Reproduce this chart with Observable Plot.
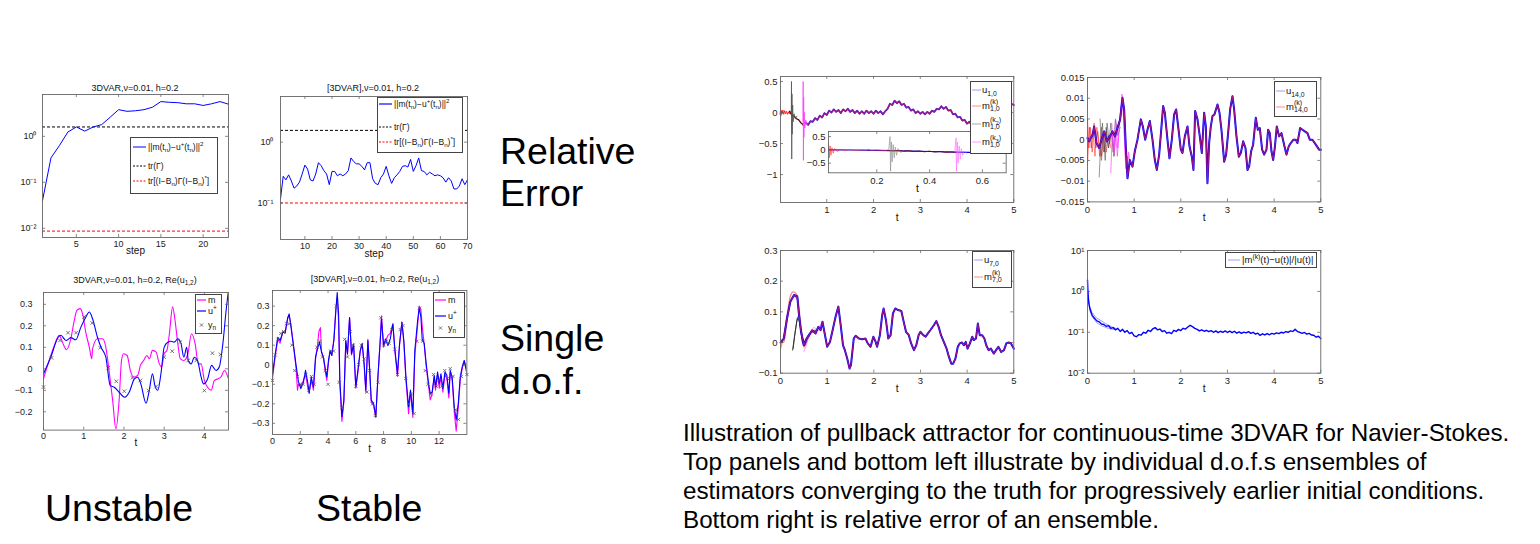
<!DOCTYPE html>
<html><head><meta charset="utf-8">
<script src="https://cdn.jsdelivr.net/npm/d3@7"></script>
<script src="https://cdn.jsdelivr.net/npm/@observablehq/plot@0.6"></script>
<style>
body{margin:0;background:#fff;}
#root{position:relative;width:1540px;height:544px;overflow:hidden;font-family:"Liberation Sans",Arial,Helvetica,sans-serif;background:#fff;color:#000}
.big{position:absolute;font-size:37.5px;line-height:37.5px;white-space:nowrap}
.cap{position:absolute;font-size:24.2px;line-height:29px;white-space:nowrap}
.ttl{position:absolute;font-size:9px;line-height:9px;white-space:nowrap;transform:translate(-50%,-50%);color:#111}
.leg{position:absolute;border:1px solid #444;background:#fff;box-sizing:border-box}
.row{position:absolute;white-space:nowrap;line-height:1;color:#111;transform:translateY(-50%)}
sub,sup{font-size:0.72em;line-height:0}
.ss{display:inline-block;vertical-align:middle;font-size:0.75em;line-height:0.95;text-align:left}
.ss>span{display:block}
</style></head><body><div id="root"></div>
<script>
// ---------------- data ----------------
// Panel 1: unstable 3DVAR relative error
const p1Step = [1,2,3,4,5,6,7,8,9,10,11,12,13,14,15,16,17,18,19,20,21,22,23];
const p1Err = [0.04,0.34,0.63,1.24,1.6,1.3,1.6,1.8,2.6,3.8,3.5,3.6,3.8,4.3,5.7,5.5,5.4,5.1,5.1,4.7,5.1,5.7,5.0];
const p1TrGamma = 1.6, p1TrB = 0.0087;
// Panel 2: stable 3DVAR relative error
const p2Err = [0.117,0.275,0.24,0.29,0.23,0.175,0.19,0.22,0.30,0.42,0.36,0.24,0.23,0.30,0.46,0.41,0.34,0.30,0.20,0.33,
  0.33,0.28,0.30,0.28,0.30,0.34,0.55,0.48,0.44,0.44,0.40,0.35,0.46,0.46,0.25,0.21,0.20,0.26,0.30,0.40,
  0.28,0.21,0.26,0.29,0.33,0.40,0.41,0.39,0.52,0.33,0.41,0.55,0.34,0.33,0.29,0.32,0.30,0.28,0.29,0.28,
  0.26,0.22,0.26,0.23,0.17,0.17,0.19,0.25,0.20,0.24];
const p2TrGamma = 1.56, p2TrB = 0.1;
// Panel 3: unstable, single dof
const p3U = [[0,-0.023],[0.18,0.054],[0.37,0.148],[0.43,0.156],[0.56,0.132],[0.68,0.145],[0.8,0.135],[0.93,0.194],[1.05,0.24],[1.14,0.264],[1.22,0.233],[1.34,0.148],[1.43,0.1],[1.55,0.054],[1.66,-0.078],[1.76,-0.086],[1.88,-0.109],[2.02,-0.132],[2.13,-0.109],[2.26,-0.047],[2.34,-0.039],[2.42,-0.07],[2.55,-0.16],[2.63,-0.1],[2.71,-0.023],[2.77,-0.078],[2.84,-0.1],[2.92,-0.023],[3.0,0.1],[3.09,0.124],[3.17,0.128],[3.25,0.124],[3.34,0.14],[3.42,0.117],[3.49,0.054],[3.56,0.1],[3.6,0.039],[3.67,0.023],[3.75,0.054],[3.83,0.039],[3.92,-0.039],[3.98,-0.07],[4.08,-0.047],[4.18,0.016],[4.29,-0.008],[4.37,0.008],[4.46,0.117],[4.54,0.27],[4.6,0.365]];
const p3M = [[0,-0.047],[0.14,0.039],[0.27,0.109],[0.39,0.156],[0.47,0.124],[0.57,0.089],[0.68,0.14],[0.75,0.21],[0.83,0.272],[0.91,0.28],[0.97,0.257],[1.05,0.171],[1.14,0.1],[1.2,0.047],[1.22,0.093],[1.34,0.14],[1.47,0.14],[1.55,0.1],[1.63,-0.008],[1.72,-0.148],[1.8,-0.28],[1.88,-0.148],[1.94,0.039],[1.99,0.07],[2.08,0.062],[2.16,-0.008],[2.24,-0.039],[2.34,-0.031],[2.41,0.016],[2.49,0.039],[2.57,0.062],[2.63,0.047],[2.71,0.086],[2.8,0.078],[2.88,0.023],[2.94,0.008],[3.0,0.07],[3.07,0.086],[3.13,0.163],[3.21,0.288],[3.27,0.226],[3.34,0.117],[3.4,0.047],[3.49,0.039],[3.59,0.07],[3.68,0.163],[3.77,0.117],[3.85,0.023],[3.92,0.023],[4.0,-0.054],[4.08,-0.086],[4.17,-0.1],[4.25,-0.054],[4.33,-0.047],[4.41,-0.039],[4.5,-0.008],[4.6,-0.047]];
const p3Y = [[0,-0.085],[0.2,0.051],[0.41,0.132],[0.61,0.168],[0.81,0.168],[1.01,0.241],[1.21,0.213],[1.41,0.098],[1.61,0.005],[1.81,-0.058],[2.01,-0.104],[2.21,-0.042],[2.41,-0.054],[2.61,-0.101],[2.8,-0.082],[3.0,0.054],[3.2,0.082],[3.4,0.124],[3.6,0.039],[3.8,0.039],[4.0,-0.101],[4.2,0.073],[4.4,0.067]];
// Panel 4: stable, single dof
const p4U = [[0,-0.046],[0.19,0.051],[0.38,0.14],[0.55,0.124],[0.74,0.166],[0.91,0.166],[1.1,0.242],[1.2,0.26],[1.32,0.2],[1.51,0.098],[1.7,-0.003],[1.87,-0.088],[2.04,-0.122],[2.23,-0.088],[2.38,-0.029],[2.55,-0.097],[2.64,-0.147],[2.79,-0.063],[2.95,-0.114],[3.1,0.039],[3.24,0.081],[3.39,0.115],[3.53,0.064],[3.67,0.039],[3.82,-0.029],[3.91,-0.063],[4.03,0.022],[4.15,0.073],[4.27,0.047],[4.42,0.124],[4.56,0.276],[4.66,0.37],[4.76,0.26],[4.85,-0.08],[5.0,-0.266],[5.14,-0.181],[5.28,0.124],[5.4,0.056],[5.55,0.242],[5.69,0.056],[5.84,0.107],[6.0,-0.114],[6.15,-0.029],[6.32,0.073],[6.46,0.107],[6.6,0.005],[6.72,-0.13],[6.87,0.124],[6.99,-0.012],[7.11,-0.181],[7.28,-0.198],[7.44,-0.266],[7.59,-0.063],[7.76,0.124],[7.85,0.234],[8.0,0.098],[8.14,0.132],[8.31,0.098],[8.48,0.132],[8.67,0.208],[8.81,0.081],[9.0,-0.046],[9.15,0.107],[9.32,0.217],[9.46,0.124],[9.61,-0.063],[9.8,-0.215],[9.94,-0.13],[10.11,-0.249],[10.25,0.073],[10.45,0.225],[10.57,0.293],[10.69,0.242],[10.78,0.132],[10.93,0.107],[11.07,0.005],[11.24,-0.097],[11.36,-0.147],[11.5,-0.139],[11.65,-0.054],[11.74,-0.114],[11.89,-0.037],[12.01,-0.097],[12.13,-0.046],[12.27,-0.122],[12.42,-0.037],[12.56,-0.054],[12.7,-0.147],[12.8,-0.029],[12.94,-0.063],[13.09,-0.215],[13.23,-0.283],[13.38,-0.198],[13.52,-0.063],[13.66,-0.012],[13.81,0.022],[14.0,-0.046]];
const p4M = [[0,-0.07],[0.19,0.04],[0.38,0.13],[0.55,0.11],[0.74,0.17],[0.91,0.16],[1.1,0.24],[1.2,0.25],[1.32,0.21],[1.51,0.1],[1.7,-0.02],[1.8,-0.13],[1.87,-0.1],[2.04,-0.11],[2.23,-0.08],[2.38,-0.05],[2.55,-0.12],[2.64,-0.14],[2.79,-0.08],[2.95,-0.13],[3.1,0.03],[3.24,0.1],[3.34,0.17],[3.45,0.19],[3.53,0.07],[3.67,0.03],[3.82,-0.04],[3.91,-0.08],[4.03,0.01],[4.15,0.07],[4.27,0.05],[4.42,0.13],[4.56,0.28],[4.66,0.34],[4.76,0.22],[4.85,-0.1],[5.0,-0.29],[5.14,-0.19],[5.28,0.12],[5.4,0.05],[5.55,0.24],[5.69,0.05],[5.84,0.1],[6.0,-0.12],[6.15,-0.04],[6.32,0.07],[6.46,0.11],[6.6,0.0],[6.72,-0.14],[6.87,0.13],[6.99,-0.02],[7.11,-0.19],[7.28,-0.21],[7.44,-0.27],[7.59,-0.07],[7.76,0.13],[7.85,0.25],[8.0,0.09],[8.14,0.12],[8.31,0.15],[8.48,0.16],[8.67,0.21],[8.81,0.07],[9.0,-0.06],[9.15,0.1],[9.32,0.22],[9.46,0.11],[9.61,-0.08],[9.8,-0.25],[9.94,-0.14],[10.11,-0.27],[10.25,0.05],[10.45,0.2],[10.57,0.3],[10.69,0.28],[10.78,0.2],[10.93,0.1],[11.07,-0.01],[11.24,-0.11],[11.36,-0.18],[11.5,-0.15],[11.65,-0.06],[11.74,-0.13],[11.89,-0.05],[12.01,-0.12],[12.13,-0.06],[12.27,-0.14],[12.42,-0.05],[12.56,-0.07],[12.7,-0.17],[12.8,-0.04],[12.94,-0.08],[13.09,-0.24],[13.23,-0.34],[13.38,-0.22],[13.52,-0.08],[13.66,-0.02],[13.81,0.02],[14.0,-0.03]];
const p4Y = [-0.08,0.05,0.13,0.16,0.17,0.21,0.21,0.10,-0.03,-0.06,-0.10,-0.10,-0.05,-0.13,-0.06,-0.10,0.09,0.12,0.04,-0.03,
  -0.10,0.07,0.07,0.30,-0.09,-0.22,0.13,0.04,0.17,0.10,-0.11,0.00,0.10,0.03,-0.14,-0.03,-0.20,-0.26,-0.09,0.24,
  0.10,0.12,0.11,0.18,0.08,-0.05,0.18,0.20,-0.07,-0.20,-0.15,-0.25,0.12,0.29,0.12,-0.03,-0.10,-0.15,-0.05,-0.11,
  -0.08,-0.11,-0.03,-0.07,-0.02,-0.06,-0.23,-0.28,-0.06,0.00,-0.05];
const p4Dt = 0.2;
// Panel 5: u_{1,0}, sampled every 0.05
const p5Dt = 0.05;
const p5Main = [0.00,-0.02,0.03,-0.01,0.02,-0.04,-0.06,-0.10,-0.12,-0.17,-0.20,-0.16,-0.20,-0.14,-0.15,-0.09,-0.12,-0.05,-0.08,-0.01,
  -0.04,0.03,0.00,0.05,0.01,0.04,-0.01,0.05,0.02,0.06,0.01,0.04,-0.01,0.03,-0.02,0.02,-0.02,0.03,-0.01,0.02,
  -0.02,0.03,-0.01,0.02,-0.03,0.02,0.06,0.14,0.12,0.19,0.15,0.18,0.12,0.14,0.08,0.09,0.03,0.05,-0.01,0.02,
  -0.02,0.01,-0.03,0.01,-0.02,0.03,0.01,0.06,0.05,0.10,0.06,0.09,0.03,0.04,-0.03,-0.02,-0.08,-0.07,-0.13,-0.12,
  -0.18,-0.15,-0.20,-0.17,-0.19,-0.14,-0.16,-0.10,-0.12,-0.06,-0.07,-0.02,-0.03,0.02,0.01,0.06,0.05,0.10,0.09,0.14,0.12];
const p5Red = [[0,-0.03],[0.01,0.04],[0.02,-0.05],[0.03,0.03],[0.045,-0.02],[0.06,0.04],[0.08,-0.03],[0.1,0.03],[0.12,-0.02],[0.14,0.02],[0.16,-0.03],[0.18,0.01],[0.2,-0.02],[0.22,0.02],[0.25,-0.04]];
const p5K2 = [[0.24,-0.03],[0.245,0.5],[0.25,-0.75],[0.255,0.3],[0.26,-0.35],[0.27,0.12],[0.28,-0.15],[0.3,-0.02],[0.33,-0.1],[0.36,-0.06]];
const p5K3 = [[0.49,-0.15],[0.495,0.5],[0.5,-0.77],[0.505,0.25],[0.51,-0.4],[0.52,0.0],[0.53,-0.25],[0.55,-0.12],[0.58,-0.2]];
const p5InU = [[0.017,0.0],[0.1,-0.005],[0.2,-0.015],[0.3,-0.035],[0.4,-0.06],[0.5,-0.085],[0.6,-0.1],[0.69,-0.11]];
const p5InRed = [[0.017,0.25],[0.02,-0.3],[0.023,0.15],[0.026,-0.2],[0.03,0.08],[0.035,-0.12],[0.04,0.05],[0.05,-0.06],[0.06,0.02],[0.08,-0.02],[0.1,0.01],[0.12,-0.02],[0.14,0.0],[0.16,-0.01],[0.17,0.03],[0.175,-0.02],[0.2,-0.01],[0.22,-0.02],[0.24,-0.02]];
const p5InDark = [[0.24,-0.02],[0.26,-0.03],[0.28,-0.02],[0.3,-0.05],[0.32,-0.03],[0.34,-0.06],[0.36,-0.04],[0.38,-0.07],[0.4,-0.05],[0.42,-0.08],[0.44,-0.06],[0.46,-0.09],[0.48,-0.08],[0.5,-0.09]];
const p5InK2 = [[0.245,0.0],[0.25,0.5],[0.252,-0.8],[0.255,0.3],[0.258,-0.45],[0.262,0.2],[0.266,-0.3],[0.27,0.1],[0.275,-0.2],[0.28,0.05],[0.29,-0.1],[0.3,-0.03]];
const p5InK3 = [[0.495,-0.08],[0.5,0.45],[0.502,-0.8],[0.505,0.3],[0.508,-0.5],[0.512,0.15],[0.516,-0.35],[0.52,0.05],[0.525,-0.2],[0.53,-0.05],[0.54,-0.12]];
// Panel 6: u_{14,0}
const p6Main = [[0,0.0004],[0.036,-0.0004],[0.107,0.0012],[0.143,0.0032],[0.193,-0.0008],[0.25,-0.002],[0.3,0],[0.357,0.002],[0.414,-0.0004],[0.479,0.0008],[0.536,0.002],[0.586,0.0008],[0.643,0.0028],[0.7,0.0049],[0.75,0.0101],[0.786,0.0073],[0.821,-0.0016],[0.857,-0.0093],[0.907,-0.0049],[0.964,-0.0065],[1.014,-0.0028],[1.071,0],[1.143,0.0049],[1.186,0.0032],[1.236,0],[1.286,0.0024],[1.336,0.0045],[1.393,0],[1.443,-0.0049],[1.486,-0.0073],[1.536,-0.0036],[1.586,0.0032],[1.621,0.0081],[1.657,0.0065],[1.714,0],[1.757,-0.0045],[1.807,0],[1.857,0.0061],[1.9,0.0073],[1.943,0.0032],[2.0,-0.0024],[2.036,-0.0032],[2.086,0.0008],[2.143,0.0032],[2.186,-0.0016],[2.236,-0.0041],[2.271,-0.0073],[2.307,0.0069],[2.357,0.0049],[2.407,0.0008],[2.45,-0.0032],[2.5,0.0065],[2.536,0.0032],[2.571,-0.0105],[2.607,-0.0008],[2.643,0.0032],[2.679,0.0057],[2.721,0.0061],[2.786,0.0085],[2.829,0.0065],[2.871,0.0024],[2.929,-0.0053],[2.971,-0.0036],[3.014,0.0016],[3.057,0.0073],[3.107,0.0105],[3.143,0.0073],[3.193,0.0008],[3.243,-0.0041],[3.286,-0.0032],[3.336,-0.0004],[3.386,-0.002],[3.429,-0.0073],[3.464,-0.0065],[3.507,-0.0028],[3.55,-0.0012],[3.607,0.0053],[3.65,0.0024],[3.693,0.0028],[3.743,-0.0024],[3.786,-0.0036],[3.836,-0.0024],[3.871,0.0024],[3.907,0.0016],[3.943,-0.0028],[3.979,-0.0049],[4.014,-0.002],[4.057,0.0032],[4.107,0.0008],[4.157,0.0016],[4.214,-0.0012],[4.264,-0.0036],[4.314,-0.0016],[4.357,-0.0008],[4.414,0],[4.464,0],[4.5,-0.0008],[4.557,0.0028],[4.607,0.0024],[4.657,0.002],[4.714,0.0016],[4.764,0],[4.821,0],[4.893,-0.0012],[4.964,-0.0024],[5.0,-0.0024]];
const p6Red1 = [[0,0.005],[0.03,-0.002],[0.06,0.003],[0.1,-0.003],[0.14,0.004],[0.18,-0.002],[0.22,0.002],[0.26,-0.004],[0.3,0.003],[0.35,-0.003],[0.4,0.002],[0.45,-0.002],[0.5,0.001]];
const p6Red2 = [[0,-0.006],[0.04,0.003],[0.08,-0.002],[0.12,0.002],[0.16,-0.004],[0.2,0.003],[0.25,-0.001],[0.3,-0.005],[0.35,0.002],[0.4,-0.003],[0.45,0.001],[0.5,-0.002]];
const p6Grey1 = [[0.25,-0.009],[0.28,-0.002],[0.32,0.004],[0.36,-0.003],[0.4,0.003],[0.45,-0.002],[0.5,0.004],[0.55,-0.003],[0.6,0.005],[0.65,0.001],[0.7,0.003]];
const p6Grey2 = [[0.27,0.005],[0.3,-0.004],[0.34,0.002],[0.38,-0.005],[0.42,0.004],[0.47,-0.001],[0.52,0.002],[0.57,-0.004],[0.62,0.003],[0.67,0.004],[0.72,0.006]];
const p6Pink1 = [[0.5,-0.008],[0.53,0.002],[0.57,-0.003],[0.6,0.005],[0.65,-0.002],[0.7,0.006],[0.74,0.011],[0.78,0.004],[0.82,-0.007],[0.86,-0.004],[0.9,-0.005]];
const p6Pink2 = [[0.52,0.004],[0.56,-0.004],[0.6,0.002],[0.64,-0.004],[0.68,0.003],[0.72,0.008],[0.76,0.009],[0.8,-0.002],[0.84,-0.008],[0.88,-0.003],[0.92,-0.006]];
// Panel 7: u_{7,0}
const p7Main = [[0,0],[0.07,0.013],[0.14,0.079],[0.21,0.133],[0.29,0.155],[0.36,0.15],[0.39,0.1],[0.44,0.035],[0.5,-0.009],[0.56,0.013],[0.61,0.024],[0.68,0.04],[0.75,0.03],[0.81,0.051],[0.86,0.04],[0.9,0.068],[0.94,0.035],[1.0,-0.014],[1.06,0.002],[1.11,0.035],[1.18,0.084],[1.24,0.117],[1.29,0.057],[1.34,-0.009],[1.38,-0.025],[1.43,-0.052],[1.48,-0.085],[1.51,-0.074],[1.57,0.013],[1.61,0.022],[1.68,0.013],[1.75,0.011],[1.82,0.013],[1.87,-0.003],[1.93,-0.014],[1.99,0.019],[2.04,0.002],[2.07,-0.014],[2.13,0.024],[2.18,0.09],[2.21,0.111],[2.26,0.073],[2.31,0.013],[2.36,0.024],[2.41,0.095],[2.46,0.111],[2.52,0.106],[2.59,0.103],[2.64,0.068],[2.69,0.035],[2.75,0.024],[2.8,-0.003],[2.86,-0.025],[2.91,-0.009],[2.96,0.024],[3.0,0.035],[3.06,0.024],[3.11,0.019],[3.16,0.03],[3.21,0.04],[3.29,0.057],[3.34,0.07],[3.39,0.051],[3.44,0.024],[3.5,0.002],[3.56,-0.02],[3.61,-0.047],[3.66,-0.069],[3.7,-0.069],[3.75,-0.052],[3.8,-0.014],[3.84,-0.003],[3.89,0],[3.93,-0.009],[3.97,0.002],[4.01,-0.02],[4.06,-0.003],[4.11,0.019],[4.14,0.008],[4.19,0.013],[4.23,0.062],[4.27,0.024],[4.32,0.024],[4.37,0.013],[4.41,-0.009],[4.46,-0.025],[4.51,-0.02],[4.57,-0.036],[4.62,-0.025],[4.67,-0.014],[4.73,-0.031],[4.79,-0.025],[4.84,-0.003],[4.89,0],[4.94,-0.003],[5.0,-0.02]];
const p7Red1 = [[0,-0.02],[0.07,0.02],[0.14,0.09],[0.21,0.15],[0.27,0.165],[0.33,0.16],[0.38,0.135],[0.42,0.08],[0.47,0.02],[0.52,0.0],[0.58,0.02]];
const p7Red2 = [[0,0.01],[0.07,0.0],[0.14,0.07],[0.21,0.13],[0.29,0.15],[0.36,0.14],[0.42,0.06],[0.5,-0.015],[0.56,0.005]];
const p7Black1 = [[0.26,-0.025],[0.3,0.02],[0.35,0.07],[0.39,0.09],[0.43,0.05],[0.47,0.0],[0.52,-0.01],[0.58,0.01],[0.65,0.03],[0.72,0.04],[0.8,0.04]];
const p7Black2 = [[0.27,-0.02],[0.31,0.03],[0.36,0.08],[0.4,0.07],[0.45,0.03],[0.5,0.0],[0.56,0.015],[0.62,0.03],[0.7,0.035]];
const p7Pink1 = [[0.5,-0.03],[0.55,-0.01],[0.6,0.015],[0.66,0.04],[0.72,0.05],[0.78,0.04],[0.84,0.05],[0.9,0.06]];
const p7Pink2 = [[0.52,-0.01],[0.58,0.01],[0.64,0.03],[0.7,0.035],[0.76,0.025],[0.82,0.045],[0.88,0.065]];
// Panel 8: relative ensemble error
const p8Main = [[0,1.9],[0.01,0.9],[0.025,0.55],[0.05,0.38],[0.1,0.26],[0.15,0.22],[0.2,0.19],[0.25,0.18],[0.3,0.16],[0.35,0.155],[0.4,0.14],[0.45,0.145],[0.5,0.125],[0.55,0.13],[0.6,0.115],[0.65,0.125],[0.7,0.105],[0.75,0.118],[0.8,0.1],[0.85,0.11],[0.9,0.093],[0.95,0.1],[1.0,0.082],[1.05,0.078],[1.1,0.088],[1.15,0.085],[1.2,0.1],[1.25,0.095],[1.3,0.112],[1.35,0.105],[1.4,0.122],[1.45,0.13],[1.5,0.115],[1.55,0.12],[1.6,0.104],[1.65,0.11],[1.7,0.095],[1.75,0.1],[1.8,0.093],[1.85,0.112],[1.9,0.105],[1.95,0.118],[2.0,0.11],[2.05,0.125],[2.1,0.12],[2.15,0.135],[2.2,0.148],[2.25,0.138],[2.3,0.125],[2.35,0.118],[2.4,0.108],[2.45,0.115],[2.5,0.106],[2.55,0.112],[2.6,0.104],[2.65,0.11],[2.7,0.1],[2.75,0.108],[2.8,0.098],[2.85,0.106],[2.9,0.1],[2.95,0.108],[3.0,0.099],[3.05,0.107],[3.1,0.098],[3.15,0.106],[3.2,0.095],[3.25,0.102],[3.3,0.094],[3.35,0.101],[3.4,0.097],[3.45,0.104],[3.5,0.094],[3.55,0.1],[3.6,0.09],[3.65,0.095],[3.7,0.084],[3.75,0.092],[3.8,0.086],[3.85,0.093],[3.9,0.087],[3.95,0.094],[4.0,0.09],[4.05,0.097],[4.1,0.093],[4.15,0.1],[4.2,0.096],[4.25,0.104],[4.3,0.1],[4.35,0.108],[4.4,0.105],[4.45,0.118],[4.5,0.104],[4.55,0.1],[4.6,0.094],[4.65,0.099],[4.7,0.09],[4.75,0.094],[4.8,0.086],[4.85,0.085],[4.9,0.076],[4.95,0.08],[5.0,0.07]];
const p8EnsA = [[0,1.2],[0.02,0.6],[0.05,0.42],[0.1,0.3],[0.2,0.22],[0.3,0.19],[0.4,0.16],[0.5,0.14],[0.6,0.125]];
const p8EnsB = [[0.01,1.0],[0.05,0.34],[0.1,0.24],[0.2,0.17],[0.3,0.145],[0.4,0.13],[0.5,0.12],[0.6,0.115]];

// tick labels
const logLabels = {"-2":"10\u207B\u00B2","-1":"10\u207B\u00B9","0":"10\u2070","1":"10\u00B9"};

// ---------------- drawing ----------------
const root = document.getElementById("root");
const FONT = '"Liberation Sans", Arial, Helvetica, sans-serif';
const fmtLin = d => d === 0 ? "0" : (d < 0 ? "\u2212" : "") + Math.abs(d);
const fmtLog = d => logLabels[String(Math.round(Math.log10(d)))];
const X = d => d[0], Y = d => d[1];

function panel(o) {
  const ml = o.ml ?? 50, mr = o.mr ?? 10, mt = o.mt ?? 6, mb = o.mb ?? 30;
  const iw = o.fx1 - o.fx0, ih = o.fy1 - o.fy0, fs = o.fs ?? 9, tk = o.tk ?? 3;
  const tcol = "#555";
  const marks = [];
  if (o.bg) marks.push(Plot.frame({fill: "white", stroke: "none"}));
  marks.push(...o.marks);
  marks.push(Plot.tickX(o.xticks, {x: d => d, insetTop: ih - tk, stroke: tcol, strokeWidth: 0.7}));
  marks.push(Plot.tickX(o.xticks, {x: d => d, insetBottom: ih - tk, stroke: tcol, strokeWidth: 0.7}));
  marks.push(Plot.tickY(o.yticks, {y: d => d, insetRight: iw - tk, stroke: tcol, strokeWidth: 0.7}));
  marks.push(Plot.tickY(o.yticks, {y: d => d, insetLeft: iw - tk, stroke: tcol, strokeWidth: 0.7}));
  marks.push(Plot.frame({stroke: "#666", strokeWidth: 0.9}));
  if (o.xlabel) marks.push(Plot.text([o.xlabel], {frameAnchor: "bottom", dy: o.xlabelDy, text: d => d, fontSize: fs + 1, fill: "#111"}));
  const svg = Plot.plot({
    width: iw + ml + mr, height: ih + mt + mb,
    marginLeft: ml, marginRight: mr, marginTop: mt, marginBottom: mb,
    x: {domain: o.xdomain, ticks: o.xticks, tickFormat: o.xfmt ?? fmtLin, tickSize: 0, tickPadding: o.xpad ?? 3, label: null},
    y: {type: o.ytype ?? "linear", domain: o.ydomain, ticks: o.yticks, tickFormat: o.yfmt ?? fmtLin, tickSize: 0, tickPadding: o.ypad ?? 3, label: null},
    style: {fontFamily: FONT, fontSize: fs + "px", color: "#222", background: "transparent", overflow: "visible"},
    marks
  });
  svg.style.position = "absolute";
  svg.style.left = (o.fx0 - ml) + "px";
  svg.style.top = (o.fy0 - mt) + "px";
  svg.style.maxWidth = "none";
  root.appendChild(svg);
}

function legend(box, rows, fs) {
  const d = document.createElement("div");
  d.className = "leg";
  Object.assign(d.style, {left: box[0] + "px", top: box[1] + "px", width: (box[2] - box[0]) + "px", height: (box[3] - box[1]) + "px"});
  const ns = "http://www.w3.org/2000/svg";
  const s = document.createElementNS(ns, "svg");
  s.setAttribute("width", box[2] - box[0]); s.setAttribute("height", box[3] - box[1]);
  s.style.position = "absolute"; s.style.left = "-1px"; s.style.top = "-1px"; s.style.overflow = "visible";
  d.appendChild(s);
  for (const r of rows) {
    const yy = r.y - box[1];
    if (r.marker) {
      const cx = (r.lx0 + r.lx1) / 2 - box[0];
      for (const [a, b] of [[-1.6, -1.6], [-1.6, 1.6]]) {
        const l = document.createElementNS(ns, "line");
        l.setAttribute("x1", cx + a); l.setAttribute("y1", yy + b); l.setAttribute("x2", cx - a); l.setAttribute("y2", yy - b);
        l.setAttribute("stroke", r.color); l.setAttribute("stroke-width", 0.8);
        s.appendChild(l);
      }
    } else {
      const l = document.createElementNS(ns, "line");
      l.setAttribute("x1", r.lx0 - box[0]); l.setAttribute("x2", r.lx1 - box[0]);
      l.setAttribute("y1", yy); l.setAttribute("y2", yy);
      l.setAttribute("stroke", r.color); l.setAttribute("stroke-width", r.w ?? 1.2);
      if (r.dash) l.setAttribute("stroke-dasharray", r.dash);
      s.appendChild(l);
    }
    const t = document.createElement("div");
    t.className = "row";
    t.style.left = (r.tx - box[0] - 1) + "px";
    t.style.top = (yy - 1) + "px";
    t.style.fontSize = fs + "px";
    t.innerHTML = r.html;
    d.appendChild(t);
  }
  root.appendChild(d);
}

function text(cls, x, y, html) {
  const d = document.createElement("div");
  d.className = cls; d.style.left = x + "px"; d.style.top = y + "px"; d.innerHTML = html;
  root.appendChild(d);
}

const BLUE = "#0000ff", MAG = "#ff00ff", RED = "#ff0000", PURP = "#a0167e";

// Panel 1
const p1 = p1Step.map((s, i) => [s, p1Err[i]]);
panel({fx0: 42, fx1: 228, fy0: 94, fy1: 237, xdomain: [1, 23], xticks: [5, 10, 15, 20],
  ytype: "log", ydomain: [Math.pow(10, -2.2), Math.pow(10, 0.91)], yticks: [0.01, 0.1, 1], yfmt: fmtLog, ypad: 6,
  xlabel: "step", xlabelDy: 16,
  marks: [
    Plot.ruleY([p1TrGamma], {stroke: "#000", strokeDasharray: "3,2", strokeWidth: 1}),
    Plot.ruleY([p1TrB], {stroke: RED, strokeDasharray: "3,2", strokeWidth: 1}),
    Plot.line(p1, {x: X, y: Y, stroke: BLUE, strokeWidth: 1})
  ]});
// Panel 2
const p2 = p2Err.map((v, i) => [i + 1, v]);
panel({fx0: 280, fx1: 467, fy0: 96, fy1: 239, xdomain: [1, 70], xticks: [10, 20, 30, 40, 50, 60, 70],
  ytype: "log", ydomain: [Math.pow(10, -1.6), Math.pow(10, 0.75)], yticks: [0.1, 1], yfmt: fmtLog, ypad: 7,
  xlabel: "step", xlabelDy: 17.5,
  marks: [
    Plot.ruleY([p2TrGamma], {stroke: "#000", strokeDasharray: "3,2", strokeWidth: 1}),
    Plot.ruleY([p2TrB], {stroke: RED, strokeDasharray: "3,2", strokeWidth: 1}),
    Plot.line(p2, {x: X, y: Y, stroke: BLUE, strokeWidth: 1})
  ]});
// Panel 3
panel({fx0: 42.7, fx1: 227.7, fy0: 291.7, fy1: 429.3, xdomain: [0, 4.6], xticks: [0, 1, 2, 3, 4],
  ydomain: [-0.285, 0.355], yticks: [-0.2, -0.1, 0, 0.1, 0.2, 0.3], ypad: 11,
  xlabel: "t", xlabelDy: 16,
  marks: [
    Plot.line(p3M, {x: X, y: Y, stroke: MAG, strokeWidth: 1.1, curve: "monotone-x", clip: true}),
    Plot.line(p3U, {x: X, y: Y, stroke: BLUE, strokeWidth: 1.1, curve: "monotone-x", clip: true}),
    Plot.dot(p3Y, {x: X, y: Y, symbol: "times", r: 1.8, stroke: "#555", strokeWidth: 0.8})
  ]});
// Panel 4
const p4Yd = p4Y.map((v, i) => [i * p4Dt, v]);
panel({fx0: 272.3, fx1: 466.7, fy0: 290, fy1: 434, xdomain: [0, 14], xticks: [0, 2, 4, 6, 8, 10, 12],
  ydomain: [-0.357, 0.38], yticks: [-0.3, -0.2, -0.1, 0, 0.1, 0.2, 0.3], ypad: 3,
  xlabel: "t", xlabelDy: 18,
  marks: [
    Plot.line(p4M, {x: X, y: Y, stroke: MAG, strokeWidth: 1.1, clip: true}),
    Plot.line(p4U, {x: X, y: Y, stroke: BLUE, strokeWidth: 1.1, clip: true}),
    Plot.dot(p4Yd, {x: X, y: Y, symbol: "times", r: 1.6, stroke: "#555", strokeWidth: 0.8})
  ]});
// Panel 5
const p5 = p5Main.map((v, i) => [i * p5Dt, v]);
panel({fx0: 780, fx1: 1013.3, fy0: 75.7, fy1: 201.7, fs: 9.5, xdomain: [0.01, 5], xticks: [1, 2, 3, 4, 5],
  ydomain: [-1.45, 0.58], yticks: [-1, -0.5, 0, 0.5], ypad: 3, xpad: 4,
  xlabel: "t", xlabelDy: 19,
  marks: [
    Plot.line(p5.slice(10), {x: X, y: Y, stroke: BLUE, strokeWidth: 1.8, strokeOpacity: 0.8}),
    Plot.line(p5Red, {x: X, y: Y, stroke: RED, strokeWidth: 1, strokeOpacity: 0.8}),
    Plot.line(p5.slice(4, 11), {x: X, y: Y, stroke: "#5a0808", strokeWidth: 1.3}),
    Plot.line(p5.slice(10), {x: X, y: Y, stroke: PURP, strokeWidth: 1.3}),
    Plot.line(p5K2, {x: X, y: Y, stroke: "#555", strokeWidth: 0.8}),
    Plot.line(p5K3, {x: X, y: Y, stroke: "#ff44ff", strokeWidth: 0.8})
  ]});
// Panel 5 inset
panel({fx0: 828.3, fx1: 1006, fy0: 131, fy1: 172.3, fs: 9.5, ml: 30, mb: 26, bg: true,
  xdomain: [0.017, 0.69], xticks: [0.2, 0.4, 0.6], ydomain: [-0.86, 0.69], yticks: [-0.5, 0, 0.5], ypad: 3, xpad: 4,
  xlabel: "t", xlabelDy: 19,
  marks: [
    Plot.line(p5InU, {x: X, y: Y, stroke: BLUE, strokeWidth: 1.2}),
    Plot.line(p5InRed, {x: X, y: Y, stroke: "#ff3030", strokeWidth: 0.8, strokeOpacity: 0.8}),
    Plot.line(p5InDark, {x: X, y: Y, stroke: "#6a0a0a", strokeWidth: 1}),
    Plot.line(p5InK2, {x: X, y: Y, stroke: "#888", strokeWidth: 0.6}),
    Plot.line(p5InK3, {x: X, y: Y, stroke: "#ff66ff", strokeWidth: 0.6})
  ]});
// Panel 6
panel({fx0: 1086.7, fx1: 1320, fy0: 77.3, fy1: 201.7, fs: 9.5, xdomain: [0, 5], xticks: [0, 1, 2, 3, 4, 5],
  ydomain: [-0.015, 0.015], yticks: [-0.015, -0.01, -0.005, 0, 0.005, 0.01, 0.015], ypad: 3, xpad: 4,
  xlabel: "t", xlabelDy: 19,
  marks: [
    Plot.line(p6Red1, {x: X, y: Y, stroke: RED, strokeWidth: 0.8, strokeOpacity: 0.6}),
    Plot.line(p6Red2, {x: X, y: Y, stroke: RED, strokeWidth: 0.8, strokeOpacity: 0.6}),
    Plot.line(p6Grey1, {x: X, y: Y, stroke: "#444", strokeWidth: 0.8, strokeOpacity: 0.7}),
    Plot.line(p6Grey2, {x: X, y: Y, stroke: "#444", strokeWidth: 0.8, strokeOpacity: 0.7}),
    Plot.line(p6Pink1, {x: X, y: Y, stroke: "#ff33ff", strokeWidth: 0.9, strokeOpacity: 0.7}),
    Plot.line(p6Pink2, {x: X, y: Y, stroke: "#ff33ff", strokeWidth: 0.9, strokeOpacity: 0.7}),
    Plot.line(p6Main, {x: X, y: Y, stroke: BLUE, strokeWidth: 2}),
    Plot.line(p6Main, {x: X, y: Y, stroke: PURP, strokeWidth: 1.1})
  ]});
// Panel 7
panel({fx0: 780, fx1: 1013.3, fy0: 250, fy1: 372.7, fs: 9.5, xdomain: [0, 5], xticks: [0, 1, 2, 3, 4, 5],
  ydomain: [-0.1, 0.3], yticks: [-0.1, 0, 0.1, 0.2, 0.3], ypad: 3, xpad: 4,
  xlabel: "t", xlabelDy: 19,
  marks: [
    Plot.line(p7Red1, {x: X, y: Y, stroke: RED, strokeWidth: 1.2, strokeOpacity: 0.5, curve: "monotone-x"}),
    Plot.line(p7Red2, {x: X, y: Y, stroke: RED, strokeWidth: 1.2, strokeOpacity: 0.5, curve: "monotone-x"}),
    Plot.line(p7Black1, {x: X, y: Y, stroke: "#222", strokeWidth: 1, strokeOpacity: 0.8}),
    Plot.line(p7Black2, {x: X, y: Y, stroke: "#222", strokeWidth: 1, strokeOpacity: 0.8}),
    Plot.line(p7Pink1, {x: X, y: Y, stroke: "#ff55ff", strokeWidth: 1, strokeOpacity: 0.6}),
    Plot.line(p7Pink2, {x: X, y: Y, stroke: "#ff55ff", strokeWidth: 1, strokeOpacity: 0.6}),
    Plot.line(p7Main, {x: X, y: Y, stroke: BLUE, strokeWidth: 2}),
    Plot.line(p7Main, {x: X, y: Y, stroke: PURP, strokeWidth: 1.1})
  ]});
// Panel 8
panel({fx0: 1086.7, fx1: 1320, fy0: 250, fy1: 372.7, fs: 9.5, xdomain: [0, 5], xticks: [0, 1, 2, 3, 4, 5],
  ytype: "log", ydomain: [0.01, 10], yticks: [0.01, 0.1, 1, 10], yfmt: fmtLog, ypad: 3, xpad: 4,
  xlabel: "t", xlabelDy: 19,
  marks: [
    Plot.line(p8EnsA, {x: X, y: Y, stroke: "#5555ff", strokeWidth: 0.8, strokeOpacity: 0.7}),
    Plot.line(p8EnsB, {x: X, y: Y, stroke: "#5555ff", strokeWidth: 0.8, strokeOpacity: 0.7}),
    Plot.line(p8Main, {x: X, y: Y, stroke: BLUE, strokeWidth: 1.4})
  ]});

// titles
text("ttl", 135, 88, "3DVAR,\u03BD=0.01, h=0.2");
text("ttl", 373, 88, "[3DVAR],\u03BD=0.01, h=0.2");
text("ttl", 135, 280, "3DVAR,\u03BD=0.01, h=0.2, Re(u<sub>1,2</sub>)");
text("ttl", 375, 279, "[3DVAR],\u03BD=0.01, h=0.2, Re(u<sub>1,2</sub>)");

// legends
legend([130, 137, 218, 194], [
  {y: 147, lx0: 133, lx1: 146, tx: 148, color: BLUE, w: 1, html: "||m(t<sub>n</sub>)\u2212u<sup>+</sup>(t<sub>n</sub>)||<sup>2</sup>"},
  {y: 166, lx0: 133, lx1: 146, tx: 148, color: "#000", dash: "2,1.5", html: "tr(\u0393)"},
  {y: 181, lx0: 133, lx1: 146, tx: 148, color: RED, dash: "2,1.5", html: "tr[(I\u2212B<sub>n</sub>)\u0393(I\u2212B<sub>n</sub>)<sup>*</sup>]"}
], 8.5);
legend([377, 97, 463, 153], [
  {y: 104, lx0: 379, lx1: 392, tx: 394, color: "#6a6aff", w: 2, html: "||m(t<sub>n</sub>)\u2212u<sup>+</sup>(t<sub>n</sub>)||<sup>2</sup>"},
  {y: 127, lx0: 379, lx1: 392, tx: 394, color: "#000", dash: "2,1.5", html: "tr(\u0393)"},
  {y: 142, lx0: 379, lx1: 392, tx: 394, color: RED, dash: "2,1.5", html: "tr[(I\u2212B<sub>n</sub>)\u0393(I\u2212B<sub>n</sub>)<sup>*</sup>]"}
], 8.5);
legend([195, 294, 222, 334], [
  {y: 300, lx0: 197, lx1: 206, tx: 208, color: MAG, w: 1.2, html: "m"},
  {y: 311, lx0: 197, lx1: 206, tx: 208, color: BLUE, w: 1.2, html: "u<sup>+</sup>"},
  {y: 325, lx0: 197, lx1: 206, tx: 208, color: "#555", marker: true, html: "y<sub>n</sub>"}
], 9);
legend([433, 292, 465, 338], [
  {y: 300, lx0: 435, lx1: 446, tx: 448, color: MAG, w: 1.2, html: "m"},
  {y: 316, lx0: 435, lx1: 446, tx: 448, color: BLUE, w: 1.2, html: "u<sup>+</sup>"},
  {y: 328, lx0: 435, lx1: 446, tx: 448, color: "#555", marker: true, html: "y<sub>n</sub>"}
], 9);
legend([970, 81, 1012, 154], [
  {y: 90, lx0: 972, lx1: 981, tx: 982, color: "#9a9aff", w: 1, html: "u<sub>1,0</sub>"},
  {y: 106, lx0: 972, lx1: 981, tx: 982, color: "#ff8c8c", w: 1, html: "m<span class='ss'><span>(k)</span><span>1,0</span></span>"},
  {y: 124, lx0: 972, lx1: 981, tx: 982, color: "#a8a8a8", w: 1, html: "m<span class='ss'><span>(k<sub>2</sub>)</span><span>1,0</span></span>"},
  {y: 142, lx0: 972, lx1: 981, tx: 982, color: "#ff9cff", w: 1, html: "m<span class='ss'><span>(k<sub>3</sub>)</span><span>1,0</span></span>"}
], 9.5);
legend([1274, 81, 1317, 117], [
  {y: 91, lx0: 1276, lx1: 1285, tx: 1286, color: "#9a9aff", w: 1, html: "u<sub>14,0</sub>"},
  {y: 107, lx0: 1276, lx1: 1285, tx: 1286, color: "#ff8c8c", w: 1, html: "m<span class='ss'><span>(k)</span><span>14,0</span></span>"}
], 9.5);
legend([972, 251, 1012, 288], [
  {y: 260, lx0: 974, lx1: 983, tx: 984, color: "#9a9aff", w: 1, html: "u<sub>7,0</sub>"},
  {y: 277, lx0: 974, lx1: 983, tx: 984, color: "#ff8c8c", w: 1, html: "m<span class='ss'><span>(k)</span><span>7,0</span></span>"}
], 9.5);
legend([1225, 252, 1317, 268], [
  {y: 260, lx0: 1228, lx1: 1240, tx: 1242, color: "#9a9aff", w: 1, html: "|m<sup>(k)</sup>(t)\u2212u(t)|/|u(t)|"}
], 9.5);

// big labels
text("big", 500, 133, "Relative");
text("big", 500, 175, "Error");
text("big", 500, 320, "Single");
text("big", 500, 363, "d.o.f.");
text("big", 45, 490, "Unstable");
text("big", 316, 490, "Stable");

// caption
text("cap", 683, 418, "Illustration of pullback attractor for continuous-time 3DVAR for Navier-Stokes.<br>Top panels and bottom left illustrate by individual d.o.f.s ensembles of<br>estimators converging to the truth for progressively earlier initial conditions.<br>Bottom right is relative error of an ensemble.");
</script></body></html>
